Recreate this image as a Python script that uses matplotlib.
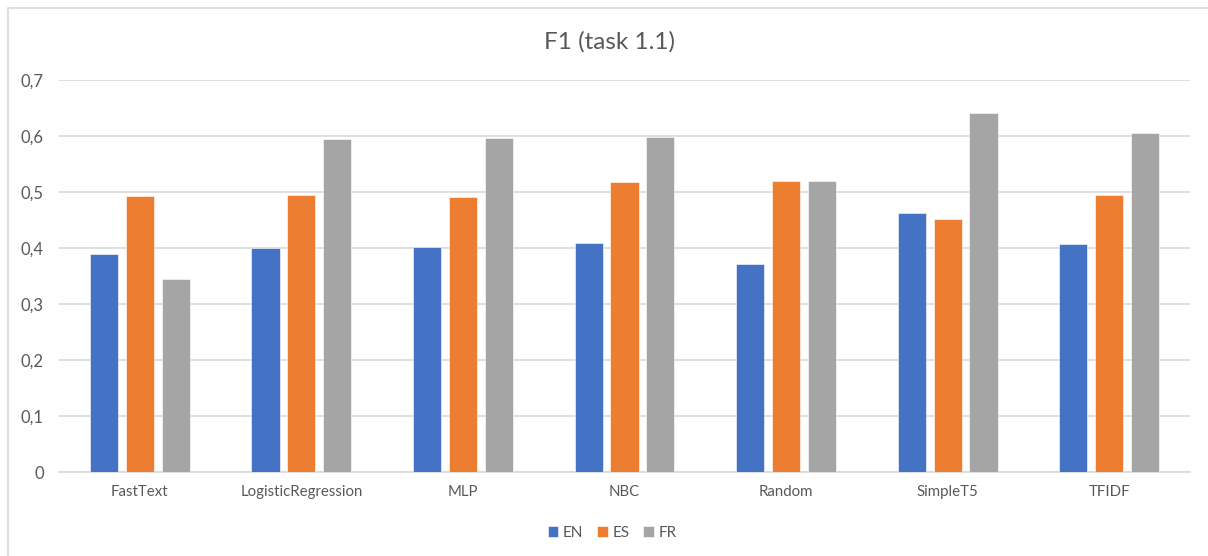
import matplotlib
matplotlib.use('Agg')
import matplotlib.pyplot as plt
from matplotlib.patches import Rectangle
from matplotlib.ticker import FuncFormatter, MultipleLocator
import numpy as np

# F1 scores per model and language
MODELS = ['FastText', 'LogisticRegression', 'MLP', 'NBC', 'Random', 'SimpleT5', 'TFIDF']
LANGS = ['EN', 'ES', 'FR']
F1_EN = [0.389, 0.401, 0.402, 0.410, 0.371, 0.463, 0.408]
F1_ES = [0.493, 0.495, 0.492, 0.518, 0.519, 0.452, 0.495]
F1_FR = [0.345, 0.595, 0.596, 0.599, 0.519, 0.642, 0.605]
COLORS = ['#4472C4', '#ED7D31', '#A5A5A5']

TEXT = '#595959'
GRID = '#D9D9D9'
plt.rcParams['font.family'] = ['Lato', 'DejaVu Sans']

W, H = 1208, 556
fig = plt.figure(figsize=(W / 100, H / 100), dpi=100)

# chart frame (runs off the right and bottom edge)
fig.patches.append(Rectangle((8 / W, -0.1), 2, 1 - 8 / H + 0.1, transform=fig.transFigure,
                             fill=False, edgecolor=GRID, lw=1.2))

ax = fig.add_axes([59 / W, 1 - 472.3 / H, (1190 - 59) / W, (472.3 - 80) / H])

x = np.arange(len(MODELS))
width = 0.174
step = 0.222
for i, (vals, lang) in enumerate(zip([F1_EN, F1_ES, F1_FR], LANGS)):
    ax.bar(x + (i - 1) * step, vals, width, color=COLORS[i], label=lang,
           edgecolor='white', linewidth=0.4, zorder=3)

ax.set_xlim(-0.5, len(MODELS) - 0.5)
ax.set_ylim(0, 0.7)
ax.yaxis.set_major_locator(MultipleLocator(0.1))
ax.yaxis.set_major_formatter(FuncFormatter(
    lambda v, p: '0' if abs(v) < 1e-9 else f'{v:.1f}'.replace('.', ',')))
ax.grid(axis='y', color=GRID, lw=1.2, zorder=0)
ax.set_xticks(x)
ax.set_xticklabels(MODELS)
ax.tick_params(axis='both', length=0, colors=TEXT)
ax.tick_params(axis='x', pad=9, labelsize=10.8)
ax.tick_params(axis='y', pad=11, labelsize=12)
for s in ['top', 'right', 'left']:
    ax.spines[s].set_visible(False)
ax.spines['bottom'].set_color(GRID)
ax.spines['bottom'].set_linewidth(1.2)

fig.text(609 / W, 1 - 42 / H, 'F1 (task 1.1)', ha='center', va='center',
         fontsize=17.5, color=TEXT)

fig.legend(loc='center', bbox_to_anchor=(612 / W, 1 - 533 / H), ncol=3, frameon=False,
           fontsize=11, labelcolor=TEXT, handlelength=0.7, handleheight=0.7,
           handletextpad=0.3, columnspacing=0.9)

fig.savefig('out.png', dpi=100)
